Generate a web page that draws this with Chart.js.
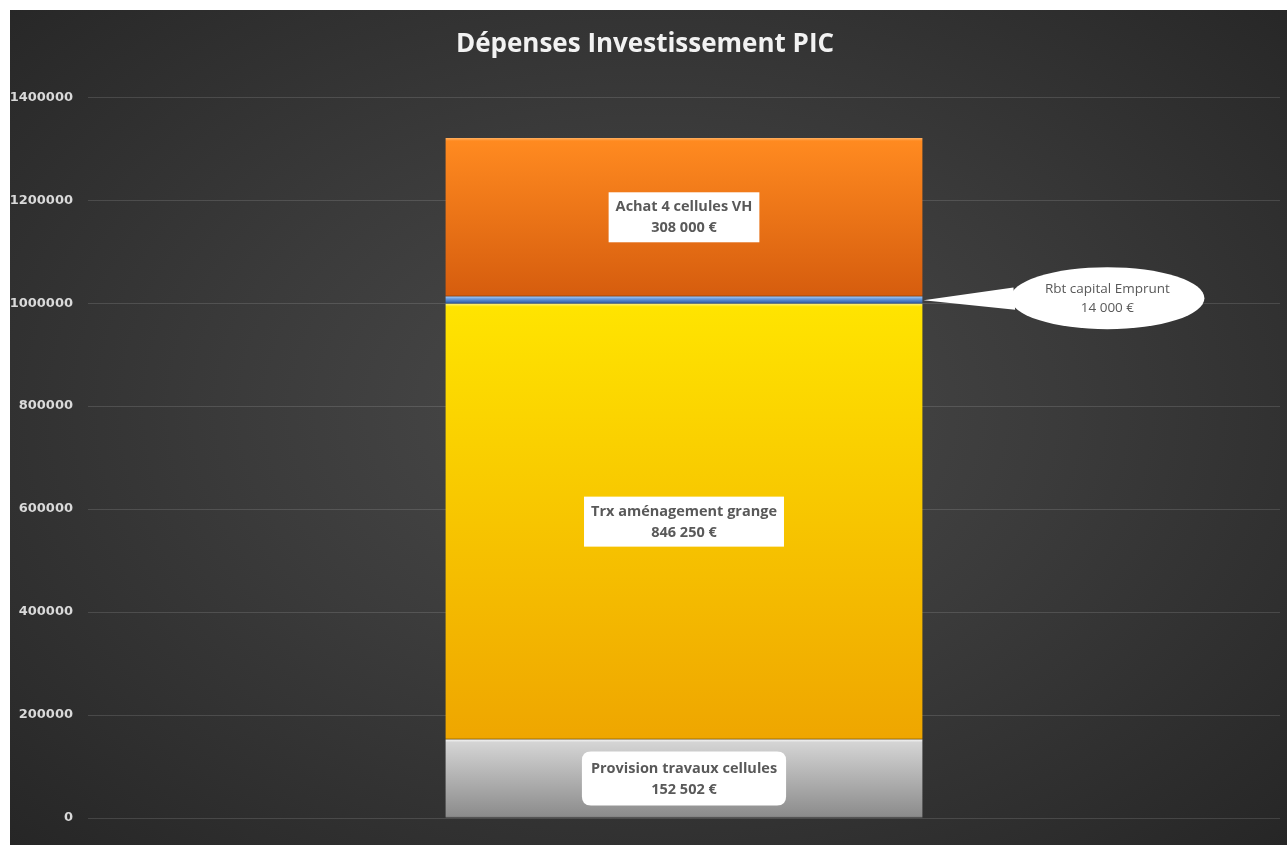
<!DOCTYPE html>
<html lang="fr">
<head>
<meta charset="utf-8">
<title>Dépenses Investissement PIC</title>
<script src="https://cdn.jsdelivr.net/npm/chart.js@4.4.1/dist/chart.umd.min.js"></script>
<style>
  html, body { margin: 0; padding: 0; background: #ffffff; }
  #wrap {
    position: absolute; left: 10px; top: 10px; width: 1277px; height: 835px;
    background: radial-gradient(ellipse at 50% 48%, #4b4b4b 0%, #3b3b3b 45%, #262626 100%);
  }
  canvas { display: block; }
</style>
</head>
<body>
<div id="wrap"><canvas id="chart"></canvas></div>
<script>
// Data (stacked from bottom to top)
const categories = [''];
const seriesNames = ['Provision travaux cellules', 'Trx aménagement grange', 'Rbt capital Emprunt', 'Achat 4 cellules VH'];
const seriesValues = [152502, 846250, 14000, 308000];
const yTicks = [0, 200000, 400000, 600000, 800000, 1000000, 1200000, 1400000];

// Colours of each segment: highlight, top, bottom, dark edge
const segColors = [
  ['#f4f4f4', '#d4d4d4', '#8c8c8c', '#6e6e6e'],
  ['#fff27a', '#ffe400', '#efa600', '#a87400'],
  ['#a8c8f4', '#6a9ee0', '#3f6fb8', '#2a4a80'],
  ['#ffb060', '#ff8a20', '#d65d0e', '#9c430a']
];
// how the label is shown: box, rounded box, or callout bubble
const labelStyle = ['round', 'box', 'callout', 'box'];

const ctx = document.getElementById('chart').getContext('2d');

function fmtEuro(v) {
  return String(v).replace(/\B(?=(\d{3})+(?!\d))/g, ' ') + ' €';
}

function segGradient(context, i) {
  const chart = context.chart;
  const col = segColors[i];
  if (!chart.chartArea || !chart.scales.y) return col[1];
  let start = 0;
  for (let k = 0; k < i; k++) start += seriesValues[k];
  const y = chart.scales.y;
  const top = y.getPixelForValue(start + seriesValues[i]);
  const bottom = y.getPixelForValue(start);
  const h = Math.max(bottom - top, 1);
  const hl = Math.min(3 / h, 0.3);
  const ed = Math.min(2 / h, 0.3);
  const g = chart.ctx.createLinearGradient(0, top, 0, bottom);
  g.addColorStop(0, col[0]);
  g.addColorStop(hl, col[1]);
  g.addColorStop(1 - ed, col[2]);
  g.addColorStop(1, col[3]);
  return g;
}

function roundRect(c, x, y, w, h, r) {
  c.beginPath();
  c.moveTo(x + r, y);
  c.lineTo(x + w - r, y);
  c.quadraticCurveTo(x + w, y, x + w, y + r);
  c.lineTo(x + w, y + h - r);
  c.quadraticCurveTo(x + w, y + h, x + w - r, y + h);
  c.lineTo(x + r, y + h);
  c.quadraticCurveTo(x, y + h, x, y + h - r);
  c.lineTo(x, y + r);
  c.quadraticCurveTo(x, y, x + r, y);
  c.closePath();
}

// draws the white label boxes and the callout bubble
const segmentLabels = {
  id: 'segmentLabels',
  afterDatasetsDraw(chart) {
    const c = chart.ctx;
    c.save();
    chart.data.datasets.forEach((ds, i) => {
      const bar = chart.getDatasetMeta(i).data[0];
      if (!bar) return;
      const cx = bar.x;
      const cy = (bar.y + bar.base) / 2;
      const line1 = seriesNames[i];
      const line2 = fmtEuro(seriesValues[i]);
      const style = labelStyle[i];

      if (style === 'callout') {
        const right = bar.x + bar.width / 2;
        const ex = right + 185, ey = cy - 2, rx = 97, ry = 31;
        c.fillStyle = '#ffffff';
        c.beginPath();
        c.moveTo(right + 1, cy);
        c.lineTo(ex + rx * Math.cos(Math.PI * 0.92), ey - ry * Math.sin(Math.PI * 0.92) - 3);
        c.lineTo(ex + rx * Math.cos(Math.PI * 1.1), ey - ry * Math.sin(Math.PI * 1.1) + 2);
        c.closePath();
        c.fill();
        c.beginPath();
        c.ellipse(ex, ey, rx, ry, 0, 0, Math.PI * 2);
        c.fill();
        c.fillStyle = '#595959';
        c.font = '13.5px "Open Sans", sans-serif';
        c.textAlign = 'center';
        c.textBaseline = 'middle';
        c.fillText(line1, ex, ey - 9);
        c.fillText(line2, ex, ey + 10);
        return;
      }

      c.font = 'bold 14.5px "Open Sans", sans-serif';
      const w = Math.max(c.measureText(line1).width, c.measureText(line2).width);
      const padX = style === 'round' ? 9 : 7;
      const h = style === 'round' ? 54 : 50;
      const bx = cx - w / 2 - padX;
      const by = cy - h / 2;
      c.fillStyle = '#ffffff';
      if (style === 'round') {
        roundRect(c, bx, by, w + padX * 2, h, 9);
        c.fill();
      } else {
        c.fillRect(bx, by, w + padX * 2, h);
      }
      c.fillStyle = '#595959';
      c.textAlign = 'center';
      c.textBaseline = 'middle';
      c.fillText(line1, cx, cy - 10);
      c.fillText(line2, cx, cy + 11);
    });
    c.restore();
  }
};

const datasets = seriesNames.map((name, i) => ({
  label: name,
  data: [seriesValues[i]],
  backgroundColor: (context) => segGradient(context, i),
  borderWidth: 0,
  categoryPercentage: 1,
  barPercentage: 0.4
}));

new Chart(ctx, {
  type: 'bar',
  data: { labels: categories, datasets },
  plugins: [segmentLabels],
  options: {
    responsive: true,
    maintainAspectRatio: false,
    animation: false,
    layout: { padding: { left: 0, right: 7, bottom: 19, top: 0 } },
    plugins: {
      legend: { display: false },
      tooltip: { enabled: false },
      title: {
        display: true,
        text: 'Dépenses Investissement PIC',
        color: '#f2f2f2',
        font: { family: '"Open Sans", sans-serif', size: 26, weight: 'bold' },
        padding: { top: 19, bottom: 37 }
      }
    },
    scales: {
      x: {
        stacked: true,
        ticks: { display: false },
        grid: { display: false },
        border: { display: false }
      },
      y: {
        stacked: true,
        min: 0,
        max: yTicks[yTicks.length - 1],
        afterBuildTicks: (scale) => { scale.ticks = yTicks.map(v => ({ value: v })); },
        afterFit: (scale) => { scale.width = 78; },
        ticks: {
          color: '#d9d9d9',
          padding: 15,
          font: { family: '"DejaVu Sans", sans-serif', size: 13, weight: 'bold' },
          callback: (v) => String(v)
        },
        grid: { color: 'rgba(255,255,255,0.13)', drawTicks: false },
        border: { display: false }
      }
    }
  }
});
</script>
</body>
</html>
